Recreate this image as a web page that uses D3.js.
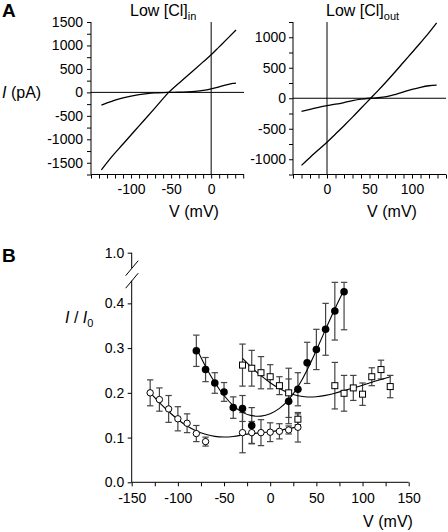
<!DOCTYPE html>
<html><head><meta charset="utf-8">
<script src="https://cdn.jsdelivr.net/npm/d3@7"></script>
<style>
body{margin:0;background:#fff;}
svg{display:block;font-family:"Liberation Sans",Arial,sans-serif;}
.axis text{font-size:14px;fill:#000;font-family:"Liberation Sans",Arial,sans-serif;}
.axis path,.axis line{stroke:#000;stroke-width:1;}
</style></head>
<body>
<svg id="c" width="448" height="532"></svg>
<script>
// ---------- Panel A data (I–V traces) ----------
const leftBigV   = [-137,-125,-110,-90,-70,-53,-30,-10,0,10,20,31];
const leftBigI   = [-1650,-1390,-1100,-715,-330,0,347,650,800,970,1140,1330];
const leftSmallV = [-137,-130,-120,-110,-100,-90,-80,-70,-60,-50,-40,-30,-20,-10,0,10,20,27,31];
const leftSmallI = [-270,-225,-165,-115,-78,-48,-25,-10,-3,0,3,10,22,42,75,118,165,190,198];
const rightBigV   = [-30,-20,-10,0,10,20,30,40,50,60,70,80,90,100,110,120,129];
const rightBigI   = [-1100,-970,-845,-720,-585,-450,-310,-165,-20,125,275,430,590,750,910,1075,1235];
const rightSmallV = [-30,-20,-10,0,10,20,30,40,50,60,70,80,90,100,110,120,129];
const rightSmallI = [-214,-182,-150,-122,-98,-70,-38,-14,0,8,25,60,103,145,180,205,215];
const leftYTicks  = [-1500,-1000,-500,0,500,1000,1500];
const leftXTicks  = [-100,-50,0];
const rightYTicks = [-1000,-500,0,500,1000];
const rightXTicks = [0,50,100];

// ---------- Panel B data (I/I0 vs V) ----------
const openCircV = [-130,-120,-110,-100,-90,-80,-70,-30,-20,-10,0,10,20,30];
const openCircY = [0.200,0.185,0.164,0.142,0.132,0.109,0.091,0.111,0.111,0.111,0.112,0.114,0.117,0.123];
const openCircE = [0.029,0.026,0.030,0.027,0.021,0.018,0.010,0.045,0.025,0.029,0.021,0.017,0.009,0.033];
const filledV = [-80,-70,-60,-50,-40,-30,-20,20,30,40,50,60,70,80];
const filledY = [0.294,0.252,0.222,0.202,0.167,0.165,0.127,0.181,0.208,0.267,0.297,0.342,0.383,0.426];
const filledE = [0.035,0.027,0.023,0.021,0.024,0.029,0.040,0.050,0.037,0.046,0.045,0.058,0.065,0.085];
const squareV = [-30,-20,-10,0,10,20,30,70,80,90,100,110,120,130];
const squareY = [0.262,0.255,0.245,0.236,0.216,0.200,0.141,0.216,0.199,0.211,0.197,0.236,0.252,0.214];
const squareE = [0.047,0.040,0.036,0.027,0.020,0.055,0.012,0.052,0.040,0.028,0.025,0.020,0.021,0.025];
// fitted curves
const fitOpenV = [-130,-120,-110,-100,-90,-80,-70,-60,-50,-40,-30,-20,-10,0,10,20,30];
const fitOpenY = [0.200,0.178,0.158,0.140,0.125,0.114,0.107,0.102,0.101,0.102,0.106,0.109,0.111,0.113,0.116,0.120,0.124];
const fitFilledV = [-80,-70,-60,-50,-40,-30,-20,-10,0,10,20,30,40,50,60,70,80];
const fitFilledY = [0.300,0.258,0.222,0.193,0.170,0.155,0.148,0.147,0.152,0.164,0.183,0.212,0.250,0.295,0.342,0.388,0.430];
const fitSquareV = [-30,-20,-10,0,10,20,30,40,50,60,70,80,90,100,110,120,130];
const fitSquareY = [0.277,0.256,0.238,0.222,0.209,0.199,0.193,0.190,0.191,0.194,0.199,0.205,0.211,0.217,0.224,0.230,0.236];
const bYTicks = [0,0.1,0.2,0.3,0.4,1.0];
const bXTicks = [-150,-100,-50,0,50,100,150];

const svg = d3.select("#c");
const FONT = '"Liberation Sans",Arial,sans-serif';

// ---------- Panel A scales ----------
const xL = d3.scaleLinear().domain([-150,41]).range([91,244]);
const yL = d3.scaleLinear().domain([-1750,1500]).range([174.5,22]);
const xR = d3.scaleLinear().domain([-40,140]).range([293,446]);
const yR = d3.scaleLinear().domain([-1250,1250]).range([174.5,22]);

function panelA(x, y, yMajor, xMajor, yStep, xDom, yDom, padY){
  const ya = d3.axisLeft(y).tickValues(d3.range(yDom[0], yDom[1]+1, yStep))
     .tickSize(4).tickPadding(padY).tickFormat(d => yMajor.includes(d) ? String(d) : "");
  svg.append("g").attr("class","axis").attr("transform",`translate(${x.range()[0]},0)`).call(ya)
     .select(".domain").attr("d",`M0,${y.range()[1]}V${y.range()[0]}`);
  const xa = d3.axisBottom(x).tickValues(d3.range(xDom[0], xDom[1]+1, 10))
     .tickSize(4).tickPadding(6).tickFormat(d => xMajor.includes(d) ? String(d) : "");
  svg.append("g").attr("class","axis").attr("transform",`translate(0,${y.range()[0]})`).call(xa)
     .select(".domain").attr("d",`M${x.range()[0]},0H${x.range()[1]}`);
  // zero lines
  svg.append("line").attr("x1",x.range()[0]).attr("x2",x.range()[1])
     .attr("y1",y(0)).attr("y2",y(0)).attr("stroke","#000");
  svg.append("line").attr("x1",x(0)).attr("x2",x(0))
     .attr("y1",y.range()[1]).attr("y2",y.range()[0]).attr("stroke","#000");
}
panelA(xL, yL, leftYTicks, leftXTicks, 250, [-150,40], [-1750,1500], 4);
panelA(xR, yR, rightYTicks, rightXTicks, 250, [-40,140], [-1250,1250], 3);

function trace(x, y, V, I){
  const line = d3.line().x(d=>x(d[0])).y(d=>y(d[1])).curve(d3.curveMonotoneX);
  svg.append("path").attr("d", line(d3.zip(V,I))).attr("fill","none")
     .attr("stroke","#000").attr("stroke-width",1.3);
}
trace(xL,yL,leftBigV,leftBigI);
trace(xL,yL,leftSmallV,leftSmallI);
trace(xR,yR,rightBigV,rightBigI);
trace(xR,yR,rightSmallV,rightSmallI);

// Panel A texts
svg.append("text").attr("x",2).attr("y",17).attr("font-size",19).attr("font-weight","bold").text("A");
function title(x, sub){
  const t = svg.append("text").attr("x",x).attr("y",16).attr("font-size",16);
  t.append("tspan").text("Low [Cl]");
  t.append("tspan").attr("font-size",11).attr("dy",4).text(sub);
}
title(130,"in");
title(326,"out");
const ipa = svg.append("text").attr("x",2).attr("y",98).attr("font-size",16);
ipa.append("tspan").attr("font-style","italic").text("I");
ipa.append("tspan").text(" (pA)");
svg.append("text").attr("x",194).attr("y",217).attr("font-size",16).attr("text-anchor","middle").text("V (mV)");
svg.append("text").attr("x",392).attr("y",217).attr("font-size",16).attr("text-anchor","middle").text("V (mV)");

// ---------- Panel B ----------
const xB = d3.scaleLinear().domain([-150,150]).range([131.7,408.7]);
const yB = d3.scaleLinear().domain([0,0.45,1.0]).range([482.3,281,252.7]);
const CLIP = 0.447;

const yaB = d3.axisLeft(yB).tickValues(bYTicks).tickSize(4).tickPadding(3.5).tickFormat(d3.format(".1f"));
const gy = svg.append("g").attr("class","axis").attr("transform",`translate(${xB(-150)},0)`).call(yaB);
gy.select(".domain").remove();
// broken y-axis line
const brkHi = yB(1.0) + 15.5, brkLo = yB(1.0) + 28;
svg.append("line").attr("x1",xB(-150)).attr("x2",xB(-150)).attr("y1",yB(1.0)).attr("y2",brkHi).attr("stroke","#000");
svg.append("line").attr("x1",xB(-150)).attr("x2",xB(-150)).attr("y1",brkLo).attr("y2",yB(0)).attr("stroke","#000");
[brkHi, brkLo].forEach(yy=>{
  svg.append("line").attr("x1",xB(-150)-6).attr("y1",yy+7.5).attr("x2",xB(-150)+6.5).attr("y2",yy-7.5)
     .attr("stroke","#000").attr("stroke-width",1);
});
const xaB = d3.axisBottom(xB).tickValues(d3.range(-150,151,25)).tickSize(4).tickPadding(7)
  .tickFormat(d => bXTicks.includes(d) ? String(d) : "");
svg.append("g").attr("class","axis").attr("transform",`translate(0,${yB(0)})`).call(xaB)
  .select(".domain").attr("d",`M${xB(-150)},0H${xB(150)}`);

// error bars
function errBars(V, Y, E){
  const g = svg.append("g").attr("stroke","#444").attr("stroke-width",1.2);
  V.forEach((v,i)=>{
    const top = Math.min(Y[i]+E[i], CLIP), bot = Y[i]-E[i];
    const xx = xB(v);
    g.append("line").attr("x1",xx).attr("x2",xx).attr("y1",yB(top)).attr("y2",yB(bot));
    g.append("line").attr("x1",xx-3.2).attr("x2",xx+3.2).attr("y1",yB(top)).attr("y2",yB(top));
    g.append("line").attr("x1",xx-3.2).attr("x2",xx+3.2).attr("y1",yB(bot)).attr("y2",yB(bot));
  });
}
errBars(squareV,squareY,squareE);
errBars(openCircV,openCircY,openCircE);
errBars(filledV,filledY,filledE);

// fit curves
function fit(V,Y){
  const line = d3.line().x(d=>xB(d[0])).y(d=>yB(d[1])).curve(d3.curveBasis);
  svg.append("path").attr("d",line(d3.zip(V,Y))).attr("fill","none").attr("stroke","#000").attr("stroke-width",1.1);
}
fit(fitOpenV,fitOpenY);
fit(fitFilledV,fitFilledY);
fit(fitSquareV,fitSquareY);

// markers
squareV.forEach((v,i)=>{
  svg.append("rect").attr("x",xB(v)-3).attr("y",yB(squareY[i])-3).attr("width",6).attr("height",6)
    .attr("fill","#fff").attr("stroke","#000").attr("stroke-width",1);
});
openCircV.forEach((v,i)=>{
  svg.append("circle").attr("cx",xB(v)).attr("cy",yB(openCircY[i])).attr("r",3.2)
    .attr("fill","#fff").attr("stroke","#000").attr("stroke-width",1);
});
filledV.forEach((v,i)=>{
  svg.append("circle").attr("cx",xB(v)).attr("cy",yB(filledY[i])).attr("r",3.8).attr("fill","#000");
});

// Panel B texts
svg.append("text").attr("x",2).attr("y",262).attr("font-size",19).attr("font-weight","bold").text("B");
const ii0 = svg.append("text").attr("x",65).attr("y",323).attr("font-size",16);
ii0.append("tspan").attr("font-style","italic").text("I");
ii0.append("tspan").text(" / ");
ii0.append("tspan").attr("font-style","italic").text("I");
ii0.append("tspan").attr("font-size",11).attr("dy",4).text("0");
svg.append("text").attr("x",388).attr("y",527).attr("font-size",16).attr("text-anchor","middle").text("V (mV)");
</script>
</body></html>
